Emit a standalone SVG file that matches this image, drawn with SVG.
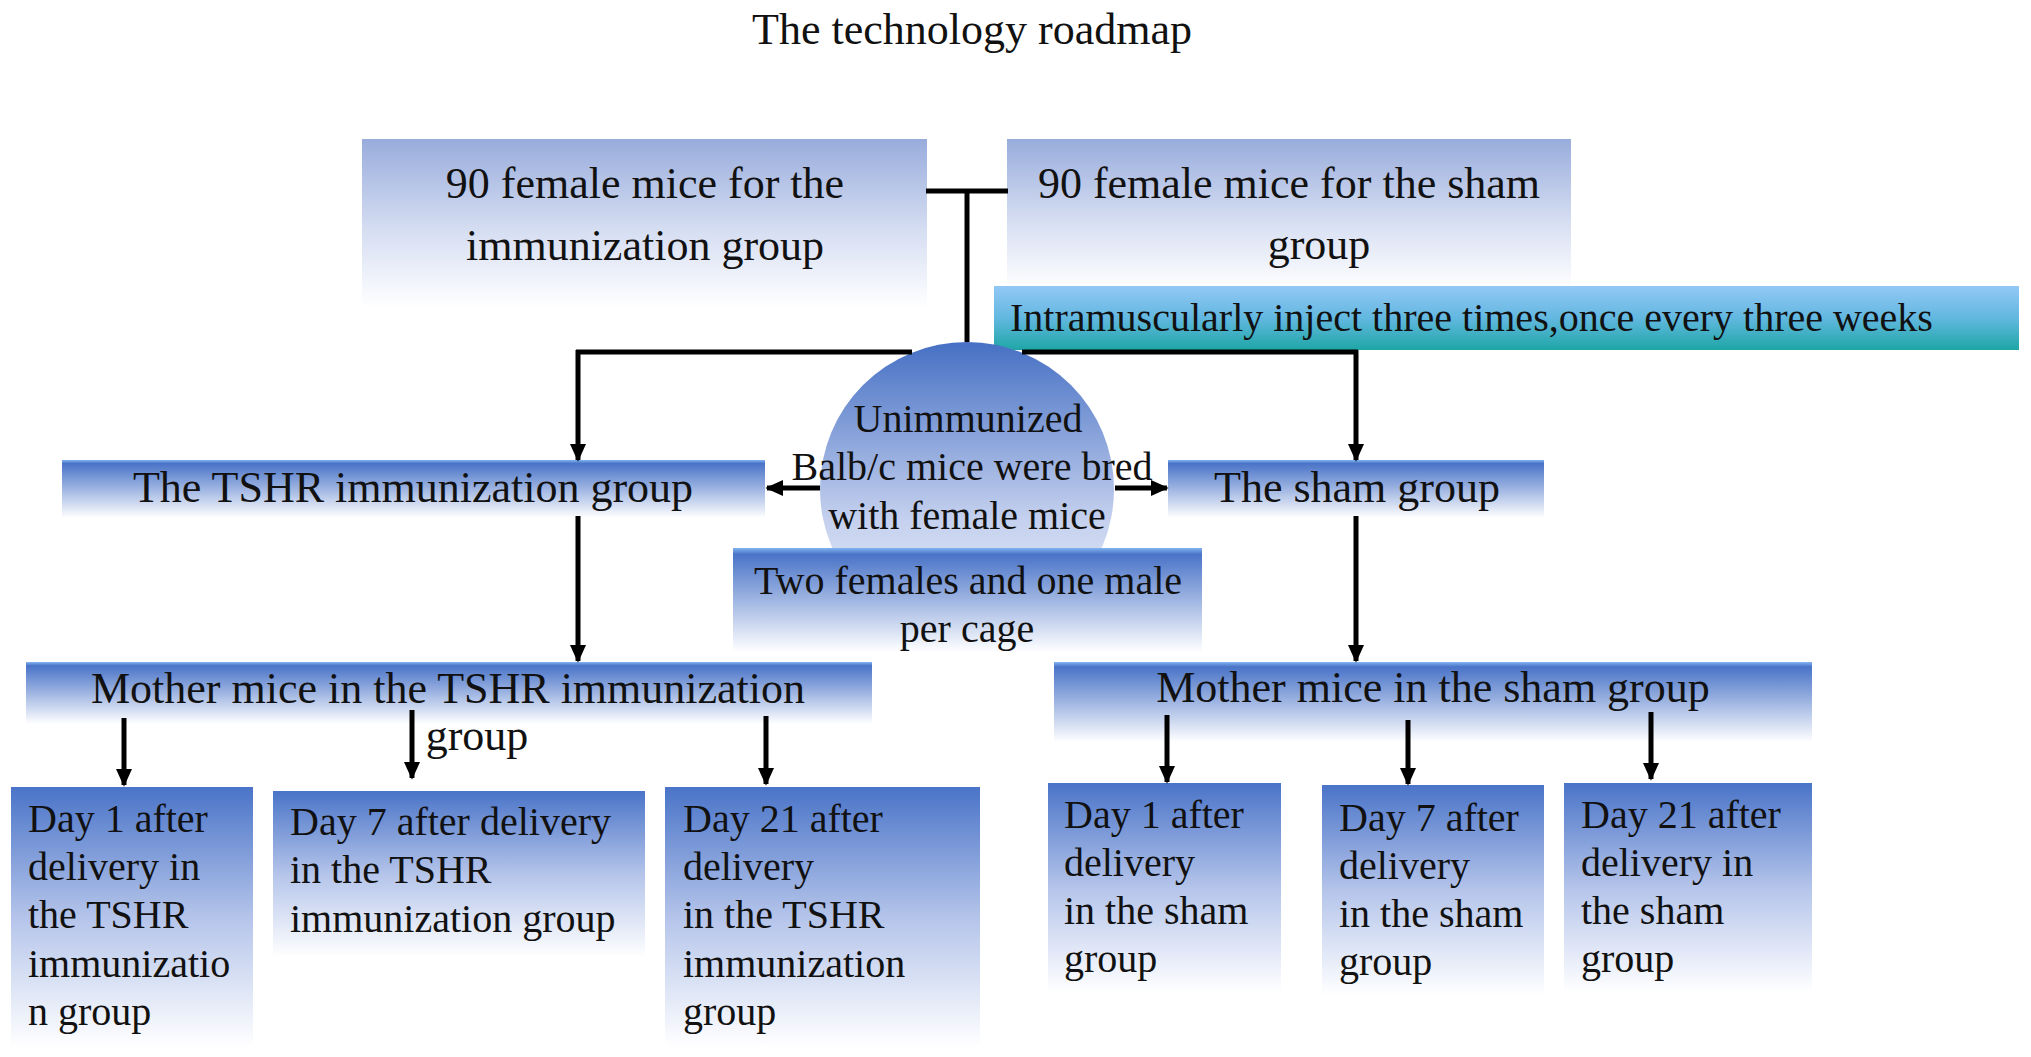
<svg xmlns="http://www.w3.org/2000/svg" width="2031" height="1057" viewBox="0 0 2031 1057">
<defs>
<linearGradient id="gTop" x1="0" y1="0" x2="0" y2="1">
<stop offset="0" stop-color="#98acdc"/>
<stop offset="0.55" stop-color="#d6def2"/>
<stop offset="1" stop-color="#ffffff"/>
</linearGradient>
<linearGradient id="gBand" x1="0" y1="0" x2="0" y2="1">
<stop offset="0" stop-color="#82b4f0"/>
<stop offset="0.06" stop-color="#4a74c8"/>
<stop offset="1" stop-color="#ffffff"/>
</linearGradient>
<linearGradient id="gDay" x1="0" y1="0" x2="0" y2="1">
<stop offset="0" stop-color="#4a74c8"/>
<stop offset="0.5" stop-color="#b4c4ea"/>
<stop offset="1" stop-color="#ffffff"/>
</linearGradient>
<linearGradient id="gTeal" x1="0" y1="0" x2="0" y2="1">
<stop offset="0" stop-color="#92c8f6"/>
<stop offset="0.5" stop-color="#62b8e0"/>
<stop offset="1" stop-color="#1ea6a6"/>
</linearGradient>
<linearGradient id="gCircle" x1="0" y1="0" x2="0" y2="1">
<stop offset="0" stop-color="#4670c4"/>
<stop offset="0.6" stop-color="#c4d0ee"/>
<stop offset="1" stop-color="#eef1fa"/>
</linearGradient>
<marker id="ah" viewBox="0 0 10 9" refX="9" refY="4.5" markerWidth="3.6" markerHeight="3.2" orient="auto">
<path d="M0,0 L10,4.5 L0,9 z" fill="#000"/>
</marker>
<style>
.t{font-family:"Liberation Serif","Times New Roman",serif;fill:#111;}
.f44{font-size:44px;}
.f40{font-size:40px;}
.c{text-anchor:middle;}
.ln{stroke:#000;stroke-width:5;fill:none;}
.ar{stroke:#000;stroke-width:5;fill:none;marker-end:url(#ah);}
</style>
</defs>
<rect width="2031" height="1057" fill="#fff"/>

<g id="title">
<text class="t f44 c" x="972" y="44">The technology roadmap</text>
</g>

<g id="immunization90">
<rect x="362" y="139" width="565" height="168" fill="url(#gTop)"/>
<text class="t f44 c" x="645" y="198">90 female mice for the</text>
<text class="t f44 c" x="645" y="260">immunization group</text>
</g>

<g id="sham90">
<rect x="1007" y="139" width="564" height="150" fill="url(#gTop)"/>
<text class="t f44 c" x="1289" y="198">90 female mice for the sham</text>
<text class="t f44 c" x="1319" y="259">group</text>
</g>

<g id="inject">
<rect x="994" y="286" width="1025" height="64" fill="url(#gTeal)"/>
<text class="t f40" x="1010" y="331">Intramuscularly inject three times,once every three weeks</text>
</g>

<g id="breeding">
<circle cx="967" cy="489" r="147" fill="url(#gCircle)"/>
<text class="t f40 c" x="968" y="432">Unimmunized</text>
<text class="t f40 c" x="972" y="480">Balb/c mice were bred</text>
<text class="t f40 c" x="967" y="529">with female mice</text>
</g>

<g id="cage">
<rect x="733" y="548" width="469" height="104" fill="url(#gBand)"/>
<text class="t f40 c" x="968" y="594">Two females and one male</text>
<text class="t f40 c" x="967" y="642">per cage</text>
</g>

<g id="tshrGroup">
<rect x="62" y="460" width="703" height="58" fill="url(#gBand)"/>
<text class="t f44 c" x="413" y="502">The TSHR immunization group</text>
</g>

<g id="shamGroup">
<rect x="1168" y="460" width="376" height="58" fill="url(#gBand)"/>
<text class="t f44 c" x="1357" y="502">The sham group</text>
</g>

<g id="motherTshr">
<rect x="26" y="662" width="846" height="62" fill="url(#gBand)"/>
<text class="t f44 c" x="448" y="703">Mother mice in the TSHR immunization</text>
<text class="t f44 c" x="477" y="750">group</text>
</g>

<g id="motherSham">
<rect x="1054" y="662" width="758" height="80" fill="url(#gBand)"/>
<text class="t f44 c" x="1433" y="702">Mother mice in the sham group</text>
</g>

<g id="tshrDay1">
<rect x="11" y="787" width="242" height="260" fill="url(#gDay)"/>
<text class="t f40" x="28"><tspan x="28" y="832">Day 1 after</tspan><tspan x="28" y="880">delivery in</tspan><tspan x="28" y="928">the TSHR</tspan><tspan x="28" y="977">immunizatio</tspan><tspan x="28" y="1025">n group</tspan></text>
</g>

<g id="tshrDay7">
<rect x="273" y="791" width="372" height="166" fill="url(#gDay)"/>
<text class="t f40" x="290"><tspan x="290" y="835">Day 7 after delivery</tspan><tspan x="290" y="883">in the TSHR</tspan><tspan x="290" y="932">immunization group</tspan></text>
</g>

<g id="tshrDay21">
<rect x="665" y="787" width="315" height="260" fill="url(#gDay)"/>
<text class="t f40" x="683"><tspan x="683" y="832">Day 21 after</tspan><tspan x="683" y="880">delivery</tspan><tspan x="683" y="928">in the TSHR</tspan><tspan x="683" y="977">immunization</tspan><tspan x="683" y="1025">group</tspan></text>
</g>

<g id="shamDay1">
<rect x="1048" y="783" width="233" height="209" fill="url(#gDay)"/>
<text class="t f40" x="1064"><tspan x="1064" y="828">Day 1 after</tspan><tspan x="1064" y="876">delivery</tspan><tspan x="1064" y="924">in the sham</tspan><tspan x="1064" y="972">group</tspan></text>
</g>

<g id="shamDay7">
<rect x="1322" y="785" width="222" height="210" fill="url(#gDay)"/>
<text class="t f40" x="1339"><tspan x="1339" y="831">Day 7 after</tspan><tspan x="1339" y="879">delivery</tspan><tspan x="1339" y="927">in the sham</tspan><tspan x="1339" y="975">group</tspan></text>
</g>

<g id="shamDay21">
<rect x="1564" y="783" width="248" height="209" fill="url(#gDay)"/>
<text class="t f40" x="1581"><tspan x="1581" y="828">Day 21 after</tspan><tspan x="1581" y="876">delivery in</tspan><tspan x="1581" y="924">the sham</tspan><tspan x="1581" y="972">group</tspan></text>
</g>

<g id="connectors">
<path class="ln" d="M926,191 H1008"/>
<path class="ln" d="M967,191 V342"/>
<path class="ln" d="M576,352 H912"/>
<path class="ln" d="M1022,352 H1358"/>
<path class="ar" d="M578,350 V460"/>
<path class="ar" d="M1356,350 V460"/>
<path class="ar" d="M820,488 H767"/>
<path class="ar" d="M1115,488 H1167"/>
<path class="ar" d="M578,516 V661"/>
<path class="ar" d="M1356,516 V661"/>
<path class="ar" d="M124,718 V785"/>
<path class="ar" d="M412,710 V778"/>
<path class="ar" d="M766,716 V784"/>
<path class="ar" d="M1167,715 V782"/>
<path class="ar" d="M1408,720 V784"/>
<path class="ar" d="M1651,712 V779"/>
</g>
</svg>
